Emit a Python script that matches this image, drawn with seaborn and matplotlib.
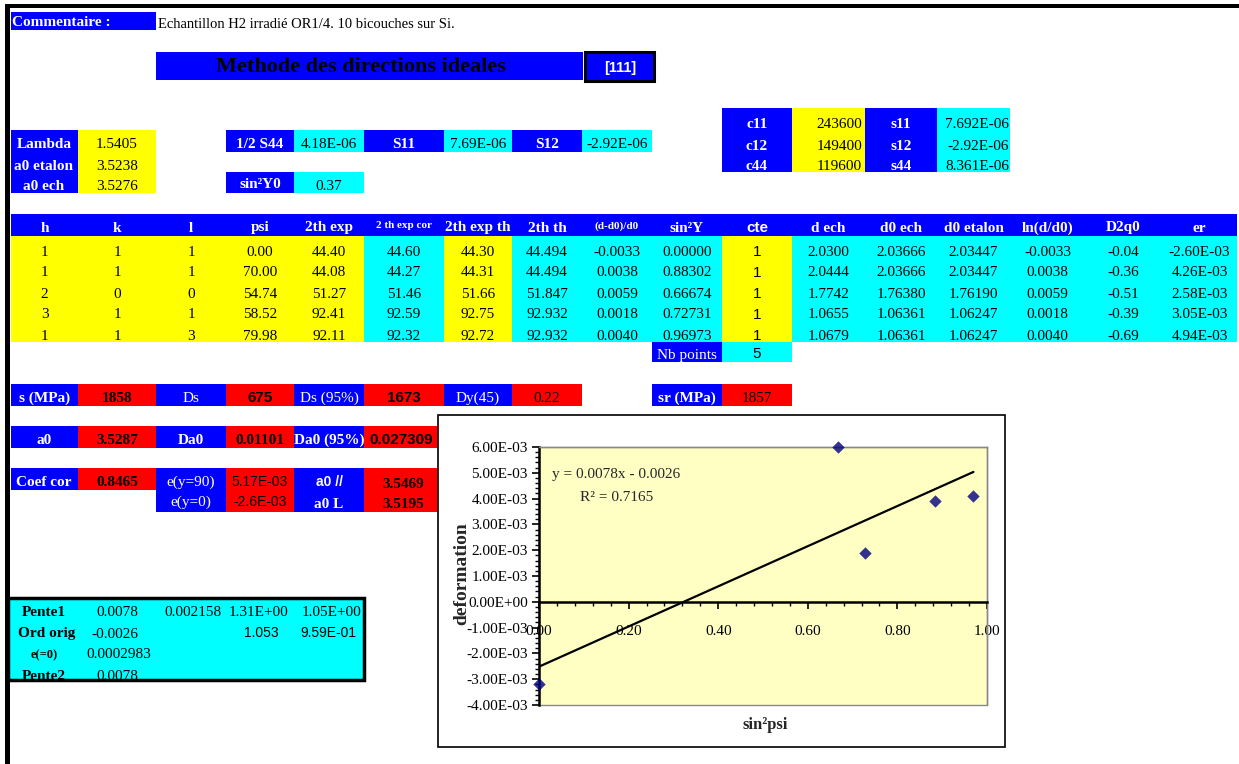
import numpy as np
import pandas as pd
import seaborn as sns
import matplotlib
matplotlib.use("Agg")
import matplotlib.pyplot as plt
from matplotlib.patches import Rectangle
from matplotlib.ticker import MultipleLocator, FuncFormatter

# ---- data ----
h_vals = [1, 1, 2, 3, 1]
k_vals = [1, 1, 0, 1, 1]
l_vals = [1, 1, 0, 1, 3]
psi = [0.00, 70.00, 54.74, 58.52, 79.98]
two_th_exp = [44.40, 44.08, 51.27, 92.41, 92.11]
two_th_exp_cor = [44.60, 44.27, 51.46, 92.59, 92.32]
two_th_exp_th = [44.30, 44.31, 51.66, 92.75, 92.72]
two_th_th = [44.494, 44.494, 51.847, 92.932, 92.932]
dd0 = [-0.0033, 0.0038, 0.0059, 0.0018, 0.0040]
sin2_psi = [0.00000, 0.88302, 0.66674, 0.72731, 0.96973]
cte = [1, 1, 1, 1, 1]
d_ech = [2.0300, 2.0444, 1.7742, 1.0655, 1.0679]
d0_ech = [2.03666, 2.03666, 1.76380, 1.06361, 1.06361]
d0_etalon = [2.03447, 2.03447, 1.76190, 1.06247, 1.06247]
ln_dd0 = [-0.0033, 0.0038, 0.0059, 0.0018, 0.0040]
d2q0 = [-0.04, -0.36, -0.51, -0.39, -0.69]
e_r = [-2.60e-3, 4.26e-3, 2.58e-3, 3.05e-3, 4.94e-3]

# points of the embedded chart
deformation = [-3.2e-3, 3.9e-3, 6.0e-3, 1.9e-3, 4.1e-3]

sns.set_style("ticks")
TIMES = ["Liberation Serif", "DejaVu Serif"]
ARIAL = ["Liberation Sans", "DejaVu Sans"]
plt.rcParams["font.family"] = TIMES

BLUE, YELLOW, CYAN, RED = "#0000FF", "#FFFF00", "#00FFFF", "#FF0000"

fig = plt.figure(figsize=(12.39, 7.64), dpi=100)
sheet = fig.add_axes([0, 0, 1, 1])
sheet.set_xlim(0, 1239)
sheet.set_ylim(764, 0)
sheet.axis("off")


def cell(x0, x1, y0, y1, color, **kw):
    r = Rectangle((x0, y0), x1 - x0, y1 - y0, facecolor=color,
                  edgecolor=kw.pop("ec", "none"), **kw)
    sheet.add_patch(r)
    return r


def put(x, y, s, size=11, color="black", weight="normal", ha="center",
        family=TIMES, clip=None):
    t = sheet.text(x, y, s, fontsize=size, color=color, fontweight=weight,
                   ha=ha, va="center", family=family)
    if clip is not None:
        t.set_clip_on(True)
        t.set_clip_path(clip)
    return t


# page borders
cell(5, 1239, 4, 8, "black")
cell(5, 10, 4, 764, "black")

# comment line and title
cell(11, 156, 12, 30, BLUE)
put(12, 22, "Commentaire :", color="white", weight="bold", ha="left")
put(158, 25, "Echantillon H2 irradié OR1/4. 10 bicouches sur Si.", size=10.5, ha="left")
cell(156, 583, 52, 80, BLUE)
put(361, 67, "Methode des directions ideales", size=16, weight="bold")
cell(585, 654, 52, 81, BLUE, ec="black", lw=2.2)
put(620, 68, "[111]", color="white", weight="bold", family=ARIAL, size=10.5)

# elastic constants block
blk = cell(722, 1010, 108, 172, "none")
cell(722, 792, 108, 172, BLUE)
cell(792, 865, 108, 172, YELLOW)
cell(865, 937, 108, 172, BLUE)
cell(937, 1010, 108, 172, CYAN)
for yy, lab, val, lab2, val2 in [(125, "c11", "243600", "s11", "7.692E-06"),
                                 (146, "c12", "149400", "s12", "-2.92E-06"),
                                 (167, "c44", "119600", "s44", "8.361E-06")]:
    put(757, yy, lab, color="white", weight="bold", clip=blk)
    put(862, yy, val, ha="right", clip=blk)
    put(901, yy, lab2, color="white", weight="bold", clip=blk)
    put(1009, yy, val2, ha="right", clip=blk)

# lambda block
cell(11, 78, 130, 193, BLUE)
cell(78, 156, 130, 193, YELLOW)
for yy, lab, val in [(145, "Lambda", "1.5405"), (167, "a0 etalon", "3.5238"), (186, "a0 ech", "3.5276")]:
    put(44, yy, lab, color="white", weight="bold")
    put(117, yy, val)

cell(226, 294, 130, 152, BLUE)
cell(294, 364, 130, 152, CYAN)
cell(364, 444, 130, 152, BLUE)
cell(444, 512, 130, 152, CYAN)
cell(512, 582, 130, 152, BLUE)
cell(582, 652, 130, 152, CYAN)
put(260, 144, "1/2 S44", color="white", weight="bold")
put(329, 144, "4.18E-06")
put(404, 144, "S11", color="white", weight="bold")
put(478, 144, "7.69E-06")
put(547, 144, "S12", color="white", weight="bold")
put(617, 144, "-2.92E-06")
cell(226, 294, 172, 193, BLUE)
cell(294, 364, 172, 193, CYAN)
put(260, 185, "sin²Y0", color="white", weight="bold")
put(329, 186, "0.37")

# main table
edges = [11, 78, 156, 226, 294, 364, 444, 512, 582, 652, 722, 792, 865, 937, 1010, 1085, 1162, 1237]
columns = [
    ("h", h_vals, "{:d}", YELLOW),
    ("k", k_vals, "{:d}", YELLOW),
    ("l", l_vals, "{:d}", YELLOW),
    ("psi", psi, "{:.2f}", YELLOW),
    ("2th exp", two_th_exp, "{:.2f}", YELLOW),
    ("2 th exp cor", two_th_exp_cor, "{:.2f}", CYAN),
    ("2th exp th", two_th_exp_th, "{:.2f}", YELLOW),
    ("2th th", two_th_th, "{:.3f}", CYAN),
    ("(d-d0)/d0", dd0, "{:.4f}", CYAN),
    ("sin²Y", sin2_psi, "{:.5f}", CYAN),
    ("cte", cte, "{:d}", YELLOW),
    ("d ech", d_ech, "{:.4f}", CYAN),
    ("d0 ech", d0_ech, "{:.5f}", CYAN),
    ("d0 etalon", d0_etalon, "{:.5f}", CYAN),
    ("ln(d/d0)", ln_dd0, "{:.4f}", CYAN),
    ("D2q0", d2q0, "{:.2f}", CYAN),
    ("er", e_r, "{:.2E}", CYAN),
]
cell(11, 1237, 214, 236, BLUE)
for i, (name, vals, fmt, col) in enumerate(columns):
    x0, x1 = edges[i], edges[i + 1]
    xc = (x0 + x1) / 2
    cell(x0, x1, 236, 342, col)
    small = name in ("2 th exp cor", "(d-d0)/d0")
    fam = ARIAL if name == "cte" else TIMES
    put(xc, 226 if small else 228, name, color="white", weight="bold",
        size=8 if small else 11, family=fam)
    for r, v in enumerate(vals):
        put(xc, 252 + 21 * r, fmt.format(v), family=fam)

nb = cell(652, 722, 342, 362, BLUE)
cell(722, 792, 342, 362, CYAN)
put(687, 356, "Nb points", color="white", clip=nb)
put(757, 354, str(len(sin2_psi)), family=ARIAL)

# stress results
row_s = [(11, 78, BLUE, "s (MPa)", "white", "bold", TIMES),
         (78, 156, RED, "1858", "black", "bold", TIMES),
         (156, 226, BLUE, "Ds", "white", "normal", TIMES),
         (226, 294, RED, "675", "black", "bold", ARIAL),
         (294, 364, BLUE, "Ds (95%)", "white", "normal", TIMES),
         (364, 444, RED, "1673", "black", "bold", ARIAL),
         (444, 512, BLUE, "Dy(45)", "white", "normal", TIMES),
         (512, 582, RED, "0.22", "black", "normal", TIMES),
         (652, 722, BLUE, "sr (MPa)", "white", "bold", TIMES),
         (722, 792, RED, "1857", "black", "normal", TIMES)]
for x0, x1, col, s, tc, w, fam in row_s:
    cell(x0, x1, 384, 406, col)
    put((x0 + x1) / 2, 398, s, color=tc, weight=w, family=fam)

row_a = [(11, 78, BLUE, "a0", "white", "bold", TIMES),
         (78, 156, RED, "3.5287", "black", "bold", TIMES),
         (156, 226, BLUE, "Da0", "white", "bold", TIMES),
         (226, 294, RED, "0.01101", "black", "bold", TIMES),
         (294, 364, BLUE, "Da0 (95%)", "white", "bold", TIMES),
         (364, 438, RED, "0.027309", "black", "bold", ARIAL)]
for x0, x1, col, s, tc, w, fam in row_a:
    cell(x0, x1, 426, 448, col)
    put((x0 + x1) / 2, 440, s, color=tc, weight=w, family=fam)

cell(11, 78, 468, 490, BLUE)
cell(78, 156, 468, 490, RED)
put(44, 482, "Coef cor", color="white", weight="bold")
put(117, 482, "0.8465", weight="bold")
cell(156, 226, 468, 512, BLUE)
cell(226, 294, 468, 512, RED)
cell(294, 364, 468, 512, BLUE)
cell(364, 438, 468, 512, RED)
put(191, 482, "e(y=90)", color="white")
put(191, 502, "e(y=0)", color="white")
put(260, 482, "5.17E-03", family=ARIAL, size=10)
put(260, 502, "-2.6E-03", family=ARIAL, size=10)
put(329, 482, "a0 //", color="white", weight="bold", family=ARIAL, size=10)
put(329, 504, "a0 L", color="white", weight="bold")
put(403, 484, "3.5469", weight="bold")
put(403, 504, "3.5195", weight="bold")

# slope box
pb = cell(8, 364, 598, 680, CYAN, ec="black", lw=2.5)
put(44, 613, "Pente1", weight="bold", clip=pb)
put(117, 613, "0.0078", clip=pb)
put(193, 613, "0.002158", clip=pb)
put(259, 613, "1.31E+00", clip=pb)
put(332, 613, "1.05E+00", clip=pb)
put(47, 634, "Ord orig", weight="bold", clip=pb)
put(115, 634, "-0.0026", clip=pb)
put(261, 633, "1.053", family=ARIAL, size=10, clip=pb)
put(328, 633, "9.59E-01", family=ARIAL, size=10, clip=pb)
put(44, 655, "e(=0)", weight="bold", size=9, clip=pb)
put(119, 655, "0.0002983", clip=pb)
put(44, 676, "Pente2", weight="bold", clip=pb)
put(117, 676, "0.0078", clip=pb)

# chart frame
cell(438, 1005, 415, 747, "white", ec="black", lw=1.2, zorder=10)

# ---- embedded scatter chart ----
df = pd.DataFrame({"sin2psi": sin2_psi, "deformation": deformation})
ax = fig.add_axes([539 / 1239, (764 - 705) / 764, 448 / 1239, 258 / 764])
ax.set_facecolor("#FFFFC4")
sns.regplot(data=df, x="sin2psi", y="deformation", ax=ax, ci=None, marker="D",
            scatter_kws=dict(color="#000080", s=40, zorder=4, clip_on=False,
                             edgecolor="#000080", linewidths=0),
            line_kws=dict(color="black", lw=1.6))
ax.set_xlim(0, 1)
ax.set_ylim(-0.004, 0.006)
ax.set_xlabel("")
ax.set_ylabel("")

ax.spines["bottom"].set_position(("data", 0))
for side in ("top", "right"):
    ax.spines[side].set_color("#888888")
    ax.spines[side].set_linewidth(1)
for side in ("left", "bottom"):
    ax.spines[side].set_color("black")
    ax.spines[side].set_linewidth(1.8)
ax.add_patch(Rectangle((0, 0), 1, 1, transform=ax.transAxes, fill=False,
                       ec="#888888", lw=1, clip_on=False, zorder=0.5))

ax.xaxis.set_major_locator(MultipleLocator(0.2))
ax.xaxis.set_minor_locator(MultipleLocator(0.04))
ax.xaxis.set_major_formatter(FuncFormatter(lambda v, p: f"{v:.2f}"))
ax.yaxis.set_major_locator(MultipleLocator(0.001))
ax.yaxis.set_minor_locator(MultipleLocator(0.0002))
ax.yaxis.set_major_formatter(FuncFormatter(lambda v, p: f"{0.0 if abs(v) < 1e-12 else v:.2E}"))
ax.tick_params(axis="both", which="major", direction="out", length=5, width=1.2,
               colors="black", labelsize=11, bottom=True, left=True)
ax.tick_params(axis="both", which="minor", direction="out", length=3, width=1,
               colors="black", bottom=True, left=True)
ax.tick_params(axis="x", which="major", pad=12)
ax.tick_params(axis="y", which="major", pad=3)
for lab in ax.get_xticklabels() + ax.get_yticklabels():
    lab.set_family(TIMES)

ax.text(0.029, 0.895, "y = 0.0078x - 0.0026", transform=ax.transAxes,
        fontsize=11, va="center", ha="left")
ax.text(0.092, 0.806, "R² = 0.7165", transform=ax.transAxes,
        fontsize=11, va="center", ha="left")
ax.text(-0.172, 0.51, "deformation", transform=ax.transAxes, rotation=90,
        fontsize=14, fontweight="bold", ha="center", va="center")
ax.text(0.504, -0.078, "sin²psi", transform=ax.transAxes,
        fontsize=12, fontweight="bold", ha="center", va="center")

fig.savefig("out.png", dpi=100)
